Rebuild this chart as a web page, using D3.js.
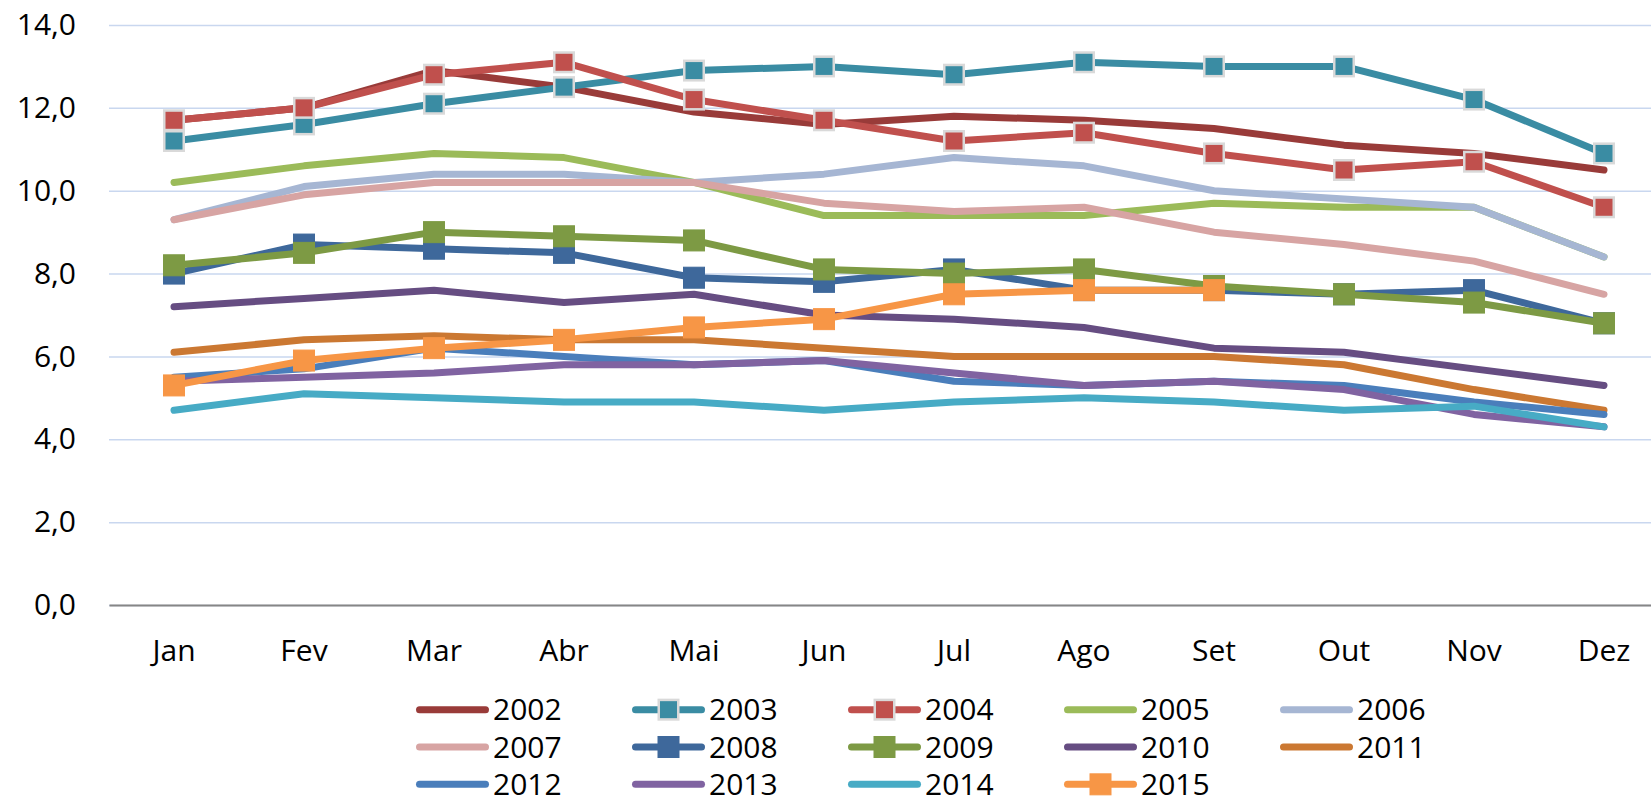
<!DOCTYPE html>
<html>
<head>
<meta charset="utf-8">
<script src="https://cdn.jsdelivr.net/npm/d3@7"></script>
<style>
  html, body { margin: 0; padding: 0; background: #fff; }
  svg { display: block; }
</style>
</head>
<body>
<div id="chart"></div>
<script>
const months = ["Jan", "Fev", "Mar", "Abr", "Mai", "Jun", "Jul", "Ago", "Set", "Out", "Nov", "Dez"];
const yTicks = [0, 2, 4, 6, 8, 10, 12, 14];

const y2002 = [11.7, 12.0, 12.9, 12.5, 11.9, 11.6, 11.8, 11.7, 11.5, 11.1, 10.9, 10.5];
const y2003 = [11.2, 11.6, 12.1, 12.5, 12.9, 13.0, 12.8, 13.1, 13.0, 13.0, 12.2, 10.9];
const y2004 = [11.7, 12.0, 12.8, 13.1, 12.2, 11.7, 11.2, 11.4, 10.9, 10.5, 10.7, 9.6];
const y2005 = [10.2, 10.6, 10.9, 10.8, 10.2, 9.4, 9.4, 9.4, 9.7, 9.6, 9.6, 8.4];
const y2006 = [9.3, 10.1, 10.4, 10.4, 10.2, 10.4, 10.8, 10.6, 10.0, 9.8, 9.6, 8.4];
const y2007 = [9.3, 9.9, 10.2, 10.2, 10.2, 9.7, 9.5, 9.6, 9.0, 8.7, 8.3, 7.5];
const y2008 = [8.0, 8.7, 8.6, 8.5, 7.9, 7.8, 8.1, 7.6, 7.6, 7.5, 7.6, 6.8];
const y2009 = [8.2, 8.5, 9.0, 8.9, 8.8, 8.1, 8.0, 8.1, 7.7, 7.5, 7.3, 6.8];
const y2010 = [7.2, 7.4, 7.6, 7.3, 7.5, 7.0, 6.9, 6.7, 6.2, 6.1, 5.7, 5.3];
const y2011 = [6.1, 6.4, 6.5, 6.4, 6.4, 6.2, 6.0, 6.0, 6.0, 5.8, 5.2, 4.7];
const y2012 = [5.5, 5.7, 6.2, 6.0, 5.8, 5.9, 5.4, 5.3, 5.4, 5.3, 4.9, 4.6];
const y2013 = [5.4, 5.5, 5.6, 5.8, 5.8, 5.9, 5.6, 5.3, 5.4, 5.2, 4.6, 4.3];
const y2014 = [4.7, 5.1, 5.0, 4.9, 4.9, 4.7, 4.9, 5.0, 4.9, 4.7, 4.8, 4.3];
const y2015 = [5.3, 5.9, 6.2, 6.4, 6.7, 6.9, 7.5, 7.6, 7.6];

const series = [
  { name: "2002", values: y2002, color: "#993b39", marker: null },
  { name: "2003", values: y2003, color: "#3a8ca3", marker: "framed" },
  { name: "2004", values: y2004, color: "#c0504d", marker: "framed" },
  { name: "2005", values: y2005, color: "#9bbb59", marker: null },
  { name: "2006", values: y2006, color: "#a6b6d3", marker: null },
  { name: "2007", values: y2007, color: "#d7a4a3", marker: null },
  { name: "2008", values: y2008, color: "#3e689b", marker: "solid" },
  { name: "2009", values: y2009, color: "#7d9a44", marker: "solid" },
  { name: "2010", values: y2010, color: "#664d82", marker: null },
  { name: "2011", values: y2011, color: "#cb7832", marker: null },
  { name: "2012", values: y2012, color: "#4a7ebb", marker: null },
  { name: "2013", values: y2013, color: "#8063a1", marker: null },
  { name: "2014", values: y2014, color: "#47abc5", marker: null },
  { name: "2015", values: y2015, color: "#f79646", marker: "solid" },
];

const width = 1651;
const height = 805;
const font = "'Open Sans', 'Noto Sans', sans-serif";
const fontSize = 30;
// the plot runs a little past the right edge, as in the original
const margin = { top: 25, left: 109, right: -18, bottom: 200 };

const svg = d3.select("#chart")
  .append("svg")
  .attr("width", width)
  .attr("height", height);

const x = d3.scaleBand()
  .domain(months)
  .range([margin.left, width - margin.right]);

const y = d3.scaleLinear()
  .domain([0, 14])
  .range([height - margin.bottom, margin.top]);

// gridlines + y labels
svg.append("g")
  .attr("transform", `translate(${margin.left},0)`)
  .call(d3.axisLeft(y).tickValues(yTicks).tickSize(-(width - margin.left - margin.right))
    .tickFormat((d) => d3.format(".1f")(d).replace(".", ",")))
  .call((g) => g.select(".domain").remove())
  .call((g) => g.selectAll(".tick line").attr("stroke", "#c9d7ef").attr("stroke-width", 1.5))
  .call((g) => g.selectAll(".tick text")
    .attr("x", -33)
    .attr("fill", "#000")
    .attr("font-family", font)
    .attr("font-size", fontSize));

// x axis
svg.append("g")
  .attr("transform", `translate(0,${y(0)})`)
  .call(d3.axisBottom(x).tickSize(0).tickPadding(35))
  .call((g) => g.select(".domain").attr("stroke", "#868686").attr("stroke-width", 2))
  .call((g) => g.selectAll(".tick text")
    .attr("fill", "#000")
    .attr("font-family", font)
    .attr("font-size", fontSize));

const line = d3.line()
  .x((d, i) => x(months[i]) + x.bandwidth() / 2)
  .y((d) => y(d));

function drawMarker(sel, s) {
  const framed = s.marker === "framed";
  const size = framed ? 19.5 : 21;
  sel.attr("x", -size / 2).attr("y", -size / 2)
    .attr("width", size).attr("height", size)
    .attr("fill", s.color)
    .attr("stroke", framed ? "#d9d9d9" : s.color)
    .attr("stroke-width", framed ? 2.5 : 1);
}

series.forEach((s) => {
  const g = svg.append("g");
  g.append("path")
    .datum(s.values)
    .attr("d", line)
    .attr("fill", "none")
    .attr("stroke", s.color)
    .attr("stroke-width", 7)
    .attr("stroke-linejoin", "round")
    .attr("stroke-linecap", "round");

  if (s.marker) {
    g.selectAll("rect")
      .data(s.values)
      .enter()
      .append("rect")
      .attr("transform", (d, i) => `translate(${x(months[i]) + x.bandwidth() / 2},${y(d)})`)
      .call(drawMarker, s);
  }
});

// legend: 5 columns x 3 rows
const legendCol = d3.scaleBand().domain(d3.range(5)).range([416, 416 + 5 * 216]);
const legendRow = d3.scaleBand().domain(d3.range(3)).range([691, 803]);

const legend = svg.append("g")
  .selectAll("g")
  .data(series)
  .enter()
  .append("g")
  .attr("transform", (s, i) => `translate(${legendCol(i % 5)},${legendRow(Math.floor(i / 5)) + legendRow.bandwidth() / 2})`);

legend.append("line")
  .attr("x1", 3.5).attr("x2", 69.5)
  .attr("stroke", (s) => s.color)
  .attr("stroke-width", 7)
  .attr("stroke-linecap", "round");

legend.filter((s) => s.marker)
  .append("rect")
  .attr("transform", "translate(36.5,0)")
  .each(function (s) { d3.select(this).call(drawMarker, s); });

legend.append("text")
  .attr("x", 77)
  .attr("dy", "0.36em")
  .attr("font-family", font)
  .attr("font-size", fontSize)
  .attr("fill", "#000")
  .text((s) => s.name);
</script>
</body>
</html>
